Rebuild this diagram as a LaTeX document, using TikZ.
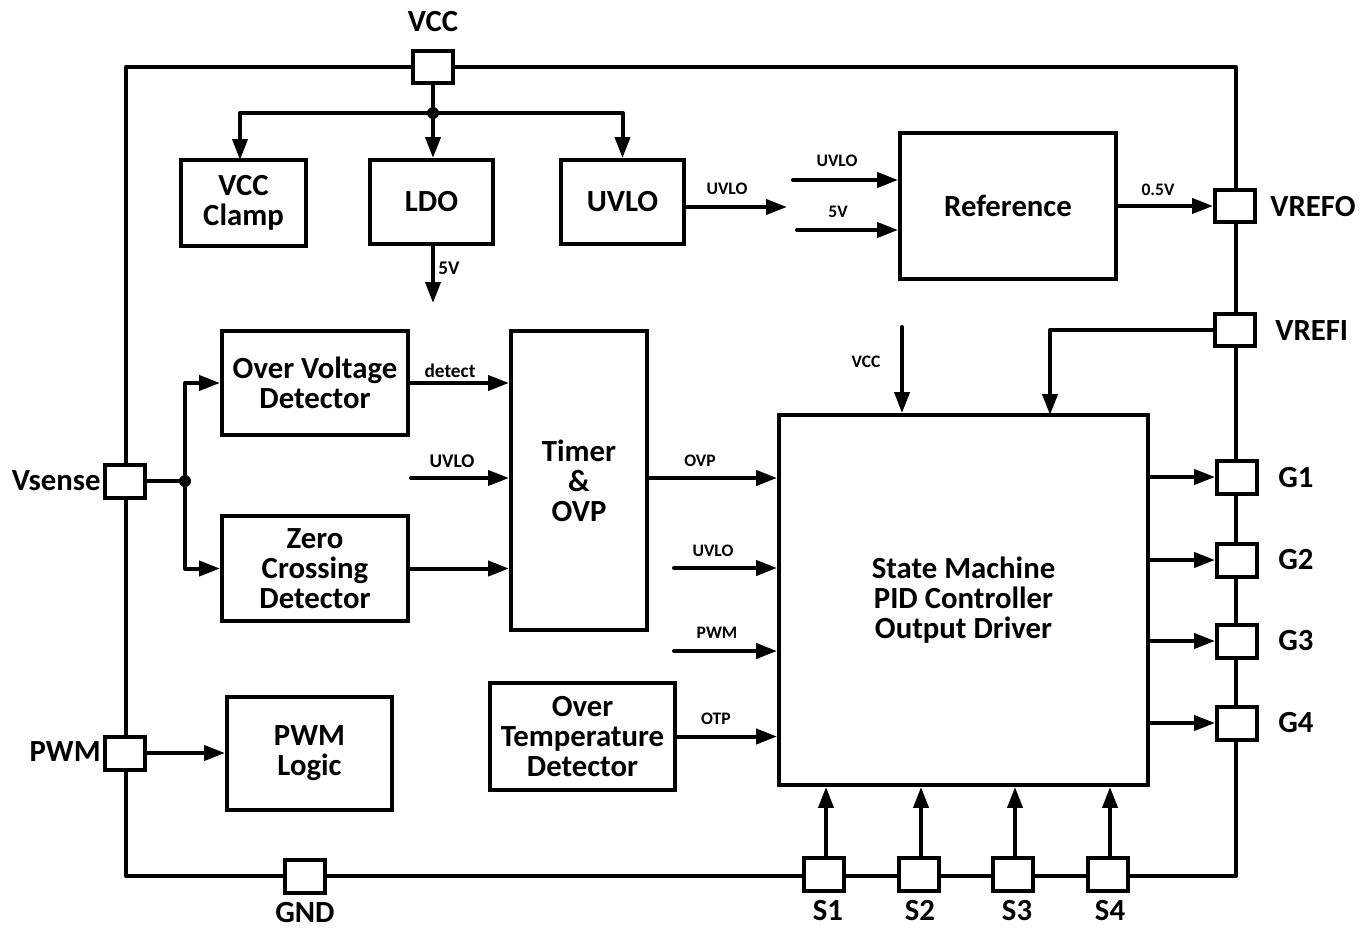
\documentclass[tikz,border=0pt]{standalone}
\usepackage{fontspec}
\setmainfont{Carlito}
\usetikzlibrary{arrows.meta}
\begin{document}
\begin{tikzpicture}[x=0.02cm,y=-0.02cm,
  every node/.style={font=\bfseries},
  wire/.style={line width=0.08cm, line cap=round, line join=round},
  arr/.style={wire, -{Triangle[length=0.42cm,width=0.3cm]}},
  blk/.style={draw, line width=0.08cm, align=center, inner sep=0pt,
    font=\fontsize{17.5}{17}\selectfont\bfseries},
  pin/.style={draw, fill=white, line width=0.08cm, minimum width=0.8cm,
    minimum height=0.66cm, inner sep=0pt},
  pinlbl/.style={font=\fontsize{17.5}{18}\selectfont\bfseries, inner sep=0pt},
  sig/.style={font=\fontsize{10}{11}\selectfont\bfseries, inner sep=0pt},
  sigm/.style={font=\fontsize{11}{12}\selectfont\bfseries, inner sep=0pt},
  dot/.style={fill, circle, inner sep=0pt, minimum size=0.24cm}
]
\useasboundingbox (0,0) rectangle (1368,929);

% frame
\draw[wire] (126,67) rectangle (1236,876);

% blocks
\node[blk, minimum width=2.5cm, minimum height=1.72cm] (clamp) at (243.5,203) {VCC\\Clamp};
\node[blk, minimum width=2.46cm, minimum height=1.68cm] (ldo) at (431.5,202) {LDO};
\node[blk, minimum width=2.46cm, minimum height=1.68cm] (uvlo) at (622.5,202) {UVLO};
\node[blk, minimum width=4.32cm, minimum height=2.92cm] (ref) at (1008,206) {Reference};
\node[blk, minimum width=3.72cm, minimum height=2.08cm] (ovd) at (315,383) {Over Voltage\\Detector};
\node[blk, minimum width=3.72cm, minimum height=2.1cm] (zcd) at (315,568.5) {Zero\\Crossing\\Detector};
\node[blk, minimum width=2.72cm, minimum height=5.98cm] (timer) at (579,480.5) {Timer\\\&\\OVP};
\node[blk, minimum width=7.38cm, minimum height=7.4cm] (sm) at (963.5,600) {State Machine\\PID Controller\\Output Driver};
\node[blk, minimum width=3.7cm, minimum height=2.14cm] (otd) at (582.5,736.5) {Over\\Temperature\\Detector};
\node[blk, minimum width=3.3cm, minimum height=2.26cm] (pwml) at (309.5,753.5) {PWM\\Logic};

% pins
\node[pin] (pvcc) at (433,67) {};
\node[pin] (pvrefo) at (1235,206) {};
\node[pin] (pvrefi) at (1235,330) {};
\node[pin] (pg1) at (1237,477) {};
\node[pin] (pg2) at (1237,560) {};
\node[pin] (pg3) at (1237,641) {};
\node[pin] (pg4) at (1237,723) {};
\node[pin] (pvs) at (125,481) {};
\node[pin] (ppwm) at (125,753) {};
\node[pin] (pgnd) at (305,876) {};
\node[pin] (ps1) at (824,874) {};
\node[pin] (ps2) at (919,874) {};
\node[pin] (ps3) at (1013,874) {};
\node[pin] (ps4) at (1108,874) {};

% pin labels
\node[pinlbl] (lvcc) at (433,22) {VCC};
\node[pinlbl, anchor=west] (lvrefo) at (1270,207) {VREFO};
\node[pinlbl, anchor=west] (lvrefi) at (1275,331) {VREFI};
\node[pinlbl, anchor=west] (lg1) at (1278,478) {G1};
\node[pinlbl, anchor=west] (lg2) at (1278,560) {G2};
\node[pinlbl, anchor=west] (lg3) at (1278,641) {G3};
\node[pinlbl, anchor=west] (lg4) at (1278,723) {G4};
\node[pinlbl, anchor=east] (lvs) at (101,481) {Vsense};
\node[pinlbl, anchor=east] (lpwm) at (101,752) {PWM};
\node[pinlbl] (lgnd) at (305,913) {GND};
\node[pinlbl] (ls1) at (828,911) {S1};
\node[pinlbl] (ls2) at (920,911) {S2};
\node[pinlbl] (ls3) at (1017,911) {S3};
\node[pinlbl] (ls4) at (1110,911) {S4};

% VCC distribution
\coordinate (j1) at (433,113);
\draw[wire] (pvcc.south) -- (j1);
\draw[arr] (j1) -| (240,160);
\draw[arr] (j1) -| (uvlo.north);
\draw[arr] (j1) -- (ldo.north -| j1);
\node[dot] (d1) at (j1) {};

% LDO 5V out
\coordinate (ldo5) at (433,303);
\draw[arr] (ldo.south -| ldo5) -- (ldo5);
\node[sigm] (t5v) at (449,268) {5V};

% UVLO out
\coordinate (uvloend) at (787,207);
\draw[arr] (uvlo.east |- uvloend) -- (uvloend);
\node[sig] (tuvlo1) at (727,189) {UVLO};

% Reference inputs
\coordinate (refin1) at (793,180);
\coordinate (refin2) at (797,230);
\draw[arr] (refin1) -- (ref.west |- refin1);
\draw[arr] (refin2) -- (ref.west |- refin2);
\node[sig] (tuvlo2) at (837,161) {UVLO};
\node[sig] (t5v2) at (838,212) {5V};

% Reference -> VREFO
\draw[arr] (ref.east) -- (pvrefo.west);
\node[sig] (t05) at (1158,190) {0.5V};

% VREFI -> SM
\coordinate (vrefiin) at (1050,415);
\draw[arr] (pvrefi.west) -| (vrefiin);

% VCC -> SM
\coordinate (vccsrc) at (902,327);
\draw[arr] (vccsrc) -- (sm.north -| vccsrc);
\node[sig] (tvcc) at (866,362) {VCC};

% Vsense split
\coordinate (j2) at (185,481);
\draw[wire] (pvs.east) -- (j2);
\draw[arr] (j2) |- (ovd.west);
\draw[arr] (j2) |- (zcd.west);
\node[dot] (d2) at (j2) {};

% into timer
\draw[arr] (ovd.east) -- (ovd.east -| timer.west);
\node[sigm] (tdet) at (450,371) {detect};
\coordinate (tuvsrc) at (411,478);
\draw[arr] (tuvsrc) -- (timer.west |- tuvsrc);
\node[sigm] (tuvlo3) at (452,461) {UVLO};
\draw[arr] (zcd.east) -- (zcd.east -| timer.west);

% into SM
\coordinate (ovpy) at (700,478);
\draw[arr] (timer.east |- ovpy) -- (sm.west |- ovpy);
\node[sig] (tovp) at (700,461) {OVP};
\coordinate (smuv) at (674,568);
\draw[arr] (smuv) -- (sm.west |- smuv);
\node[sig] (tuvlo4) at (713,551) {UVLO};
\coordinate (smpwm) at (674,651);
\draw[arr] (smpwm) -- (sm.west |- smpwm);
\node[sig] (tpwm) at (717,633) {PWM};
\draw[arr] (otd.east) -- (sm.west |- otd.east);
\node[sig] (totp) at (716,719) {OTP};

% SM -> G pins
\foreach \g in {pg1,pg2,pg3,pg4}
  \draw[arr] (sm.east |- \g) -- (\g.west);

% S pins -> SM
\foreach \s in {ps1,ps2,ps3,ps4}
  \draw[arr] ([xshift=0.04cm]\s.north) -- ([xshift=0.04cm]\s.north |- sm.south);

% PWM pin -> PWM logic
\draw[arr] (ppwm.east) -- (pwml.west |- ppwm.east);

\end{tikzpicture}
\end{document}
